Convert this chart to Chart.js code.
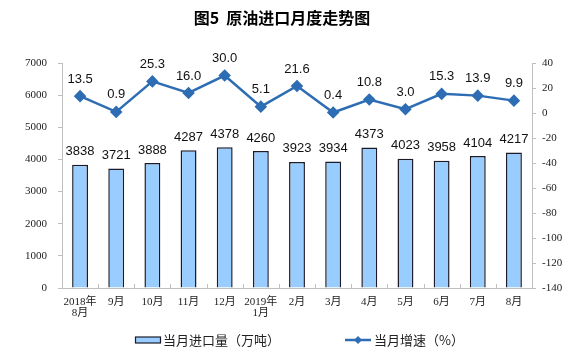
<!DOCTYPE html>
<html>
<head>
<meta charset="utf-8">
<script src="https://cdn.jsdelivr.net/npm/chart.js@4.4.1/dist/chart.umd.min.js"></script>
<style>
html,body{margin:0;padding:0;background:#fff;}
#wrap{width:575px;height:355px;position:relative;}
</style>
</head>
<body>
<div id="wrap"><canvas id="c" width="575" height="355"></canvas></div>
<script>
const titleText = '图5  原油进口月度走势图';
const categories = [['2018年','8月'],'9月','10月','11月','12月',['2019年','1月'],'2月','3月','4月','5月','6月','7月','8月'];
const importVolume = [3838, 3721, 3888, 4287, 4378, 4260, 3923, 3934, 4373, 4023, 3958, 4104, 4217];
const growthRate = [13.5, 0.9, 25.3, 16.0, 30.0, 5.1, 21.6, 0.4, 10.8, 3.0, 15.3, 13.9, 9.9];
const volumeLabel = '当月进口量（万吨）';
const growthLabel = '当月增速（%）';
const leftTicks = [0, 1000, 2000, 3000, 4000, 5000, 6000, 7000];
const rightTicks = [-140, -120, -100, -80, -60, -40, -20, 0, 20, 40];

const BAR_FILL = '#99ccff';
const BAR_BORDER = '#1c1c28';
const LINE_COLOR = '#2e6db4';
const AXIS_COLOR = '#bfbfbf';
const TICK_FONT = "'Liberation Serif', 'Noto Sans CJK SC', serif";
const LABEL_FONT = "'Liberation Sans', Arial, sans-serif";
const CJK_FONT = "'Noto Sans CJK SC', sans-serif";

const decor = {
  id: 'decor',
  afterDraw(chart) {
    const ctx = chart.ctx;
    const area = chart.chartArea;
    ctx.save();
    // title
    ctx.fillStyle = '#000';
    ctx.font = "bold 16px " + CJK_FONT;
    ctx.textAlign = 'center';
    ctx.textBaseline = 'middle';
    ctx.fillText(titleText, 282, 18);

    // x-axis inner tick marks between categories
    const xs = chart.scales.x;
    ctx.strokeStyle = AXIS_COLOR;
    ctx.lineWidth = 1;
    for (let i = 1; i < categories.length; i++) {
      const px = Math.round((xs.getPixelForValue(i - 1) + xs.getPixelForValue(i)) / 2) + 0.5;
      ctx.beginPath();
      ctx.moveTo(px, area.bottom);
      ctx.lineTo(px, area.bottom - 4);
      ctx.stroke();
    }

    // data labels
    ctx.fillStyle = '#111';
    ctx.font = "13px " + LABEL_FONT;
    ctx.textAlign = 'center';
    ctx.textBaseline = 'middle';
    const barMeta = chart.getDatasetMeta(0);
    barMeta.data.forEach((el, i) => {
      ctx.fillText(String(importVolume[i]), el.x, el.y - 13);
    });
    const lineMeta = chart.getDatasetMeta(1);
    lineMeta.data.forEach((el, i) => {
      ctx.fillText(growthRate[i].toFixed(1), el.x, el.y - 17);
    });

    // legend
    const ly = 340;
    ctx.fillStyle = BAR_FILL;
    ctx.strokeStyle = BAR_BORDER;
    ctx.lineWidth = 1.2;
    ctx.fillRect(135.5, ly - 3, 25, 6);
    ctx.strokeRect(135.5, ly - 3, 25, 6);
    ctx.fillStyle = '#222';
    ctx.font = "13px " + CJK_FONT;
    ctx.textAlign = 'left';
    ctx.fillText(volumeLabel, 163, ly);

    ctx.strokeStyle = LINE_COLOR;
    ctx.lineWidth = 2.5;
    ctx.beginPath();
    ctx.moveTo(345, ly);
    ctx.lineTo(371, ly);
    ctx.stroke();
    ctx.fillStyle = LINE_COLOR;
    ctx.beginPath();
    ctx.moveTo(358, ly - 4);
    ctx.lineTo(362, ly);
    ctx.lineTo(358, ly + 4);
    ctx.lineTo(354, ly);
    ctx.closePath();
    ctx.fill();
    ctx.fillStyle = '#222';
    ctx.fillText(growthLabel, 374, ly);
    ctx.restore();
  }
};

new Chart(document.getElementById('c'), {
  type: 'bar',
  data: {
    labels: categories,
    datasets: [
      {
        type: 'bar',
        label: volumeLabel,
        data: importVolume,
        yAxisID: 'y',
        backgroundColor: BAR_FILL,
        borderColor: BAR_BORDER,
        borderWidth: 1.5,
        categoryPercentage: 1,
        barPercentage: 0.44,
        order: 2
      },
      {
        type: 'line',
        label: growthLabel,
        data: growthRate,
        yAxisID: 'y1',
        borderColor: LINE_COLOR,
        backgroundColor: LINE_COLOR,
        borderWidth: 2.5,
        pointStyle: 'rectRot',
        pointRadius: 4.5,
        pointHoverRadius: 4.5,
        tension: 0,
        order: 1
      }
    ]
  },
  options: {
    responsive: false,
    animation: false,
    devicePixelRatio: 1,
    layout: { padding: { top: 63, left: 0, right: 0, bottom: 0 } },
    plugins: {
      legend: { display: false },
      title: { display: false },
      tooltip: { enabled: false }
    },
    scales: {
      x: {
        offset: true,
        grid: { display: false, drawTicks: false },
        border: { display: true, color: AXIS_COLOR, width: 1 },
        ticks: {
          color: '#222',
          font: { family: TICK_FONT, size: 11, lineHeight: 1.0 },
          padding: 9,
          maxRotation: 0,
          autoSkip: false
        },
        afterFit(scale) { scale.height = 67; }
      },
      y: {
        position: 'left',
        min: 0,
        max: 7000,
        afterBuildTicks(scale) { scale.ticks = leftTicks.map(v => ({ value: v })); },
        grid: { drawOnChartArea: false, drawTicks: true, tickLength: 4, color: AXIS_COLOR },
        border: { display: true, color: AXIS_COLOR, width: 1 },
        ticks: {
          color: '#222',
          font: { family: TICK_FONT, size: 11 },
          padding: 11,
          callback: (v) => String(v)
        },
        afterFit(scale) { scale.width = 62; }
      },
      y1: {
        position: 'right',
        min: -140,
        max: 40,
        afterBuildTicks(scale) { scale.ticks = rightTicks.map(v => ({ value: v })); },
        grid: { drawOnChartArea: false, drawTicks: true, tickLength: 4, color: AXIS_COLOR },
        border: { display: true, color: AXIS_COLOR, width: 1 },
        ticks: {
          color: '#222',
          font: { family: TICK_FONT, size: 11 },
          padding: 6,
          callback: (v) => String(v)
        },
        afterFit(scale) { scale.width = 43; }
      }
    }
  },
  plugins: [decor]
});
</script>
</body>
</html>
